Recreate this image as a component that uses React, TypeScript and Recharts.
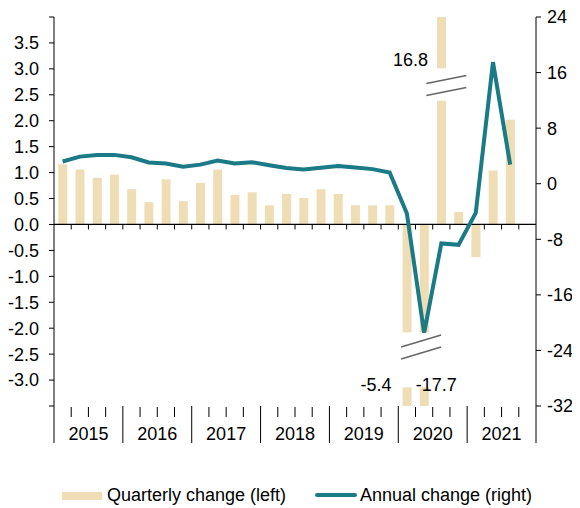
import React from "react"
import { Bar, ComposedChart, Line, ReferenceDot, ReferenceLine, XAxis, YAxis } from "recharts"

// quarters 2015Q1 .. 2021Q4 (last one is an empty slot)
const years = ["2015", "2016", "2017", "2018", "2019", "2020", "2021"]
const quarters = years.flatMap((y) => ["Q1", "Q2", "Q3", "Q4"].map((q) => `${y}${q}`))

// quarter on quarter change, % (left axis)
const quarterlyChange = [
  1.16, 1.06, 0.9, 0.96,
  0.68, 0.43, 0.87, 0.45,
  0.8, 1.06, 0.57, 0.62,
  0.37, 0.59, 0.51, 0.68,
  0.59, 0.37, 0.37, 0.37,
  -5.4, -17.7, 16.8, 0.24,
  -0.63, 1.04, 2.02,
]

// year on year change, % (right axis)
const annualChange = [
  3.2, 3.9, 4.15, 4.15,
  3.8, 3.05, 2.9, 2.45,
  2.75, 3.35, 2.9, 3.1,
  2.65, 2.25, 2.05, 2.3,
  2.55, 2.35, 2.1, 1.6,
  -4.3, -21.5, -8.6, -8.8,
  -4.2, 17.5, 2.75,
]

const leftTicks = [-3.5, -3, -2.5, -2, -1.5, -1, -0.5, 0, 0.5, 1, 1.5, 2, 2.5, 3, 3.5, 4]
const rightTicks = [-32, -24, -16, -8, 0, 8, 16, 24]

const LEFT_MIN = -3.5
const LEFT_MAX = 4

const BAR_COLOR = "#EFDDB5"
const LINE_COLOR = "#1A7A86"
const FONT = "'Liberation Sans', Arial, sans-serif"

const W = 572
const H = 435
const LEFT_W = 46
const RIGHT_W = 44
const AXIS_H = 37
const HALF_BAND = (W - LEFT_W - RIGHT_W) / quarters.length / 2

// where the cut bars are interrupted (left axis units)
const NEG_GAP = [-2.08, -3.14]
const POS_GAP = [2.39, 3.01]

// placement of the value labels of the cut bars, relative to the bar's left edge
const breakLabelStyle: Record<string, { dx: number; anchor: "start" | "end" }> = {
  "2020Q1": { dx: -11, anchor: "end" },
  "2020Q2": { dx: -4, anchor: "start" },
  "2020Q3": { dx: -9, anchor: "end" },
}

const data = quarters.map((q, i) => {
  const v = quarterlyChange[i]
  return {
    q,
    raw: v ?? null,
    bar: v == null ? null : Math.max(LEFT_MIN, Math.min(LEFT_MAX, v)),
    annual: annualChange[i] ?? null,
  }
})

const BarShape = (props: any) => {
  const { x, y, width, height, payload } = props
  const top = Math.min(y, y + height)
  const h = Math.abs(height)
  const { raw, bar, q } = payload
  if (raw == null) return null
  if (raw === bar) return <rect x={x} y={top} width={width} height={h} fill={BAR_COLOR} />

  const k = h / Math.abs(bar)
  const st = breakLabelStyle[q] ?? { dx: -8, anchor: "end" }
  if (raw < 0) {
    const zero = top
    const g1 = zero - NEG_GAP[0] * k
    const g2 = zero - NEG_GAP[1] * k
    return (
      <g>
        <rect x={x} y={zero} width={width} height={g1 - zero} fill={BAR_COLOR} />
        <rect x={x} y={g2} width={width} height={top + h - g2} fill={BAR_COLOR} />
        <text x={x + st.dx} y={g2 + 4} textAnchor={st.anchor} fontSize={18} fontFamily={FONT} fill="#000">
          {raw.toFixed(1)}
        </text>
      </g>
    )
  }
  const zero = top + h
  const g1 = zero - POS_GAP[0] * k
  const g2 = zero - POS_GAP[1] * k
  return (
    <g>
      <rect x={x} y={top} width={width} height={g2 - top} fill={BAR_COLOR} />
      <rect x={x} y={g1} width={width} height={zero - g1} fill={BAR_COLOR} />
      <text x={x + st.dx} y={zero - 3.06 * k} textAnchor={st.anchor} fontSize={18} fontFamily={FONT} fill="#000">
        {raw.toFixed(1)}
      </text>
    </g>
  )
}

// the "//" axis break symbol
const breakMark = (dx: number, slope: number) => (p: any) => {
  const cx = p.cx + dx
  const cy = p.cy
  const w = 20
  return (
    <g>
      <rect x={cx - w - 1} y={cy - 15} width={2 * w + 2} height={31} fill="#fff" />
      <line x1={cx - w} y1={cy - 1} x2={cx + w} y2={cy - 1 - 2 * w * slope} stroke="#666" strokeWidth={1.6} />
      <line x1={cx - w} y1={cy + 11} x2={cx + w} y2={cy + 11 - 2 * w * slope} stroke="#666" strokeWidth={1.6} />
    </g>
  )
}

const QuarterTick = (props: any) => {
  const { x, y, payload } = props
  const i = quarters.indexOf(payload.value)
  const right = x + HALF_BAND
  const qi = i % 4
  return (
    <g stroke="#000" strokeWidth={1}>
      {i === 0 && <line x1={x - HALF_BAND} x2={x - HALF_BAND} y1={y} y2={y + AXIS_H} />}
      {qi === 3 ? (
        <line x1={right} x2={right} y1={y} y2={y + AXIS_H} />
      ) : (
        <line x1={right} x2={right} y1={y + 1} y2={y + 11} />
      )}
      {qi === 1 && (
        <text x={right} y={y + 34} textAnchor="middle" stroke="none" fill="#000" fontSize={18} fontFamily={FONT}>
          {years[Math.floor(i / 4)]}
        </text>
      )}
    </g>
  )
}

const ZeroLine = (p: any) => {
  const { x1, y1, x2 } = p
  const step = (x2 - x1) / quarters.length
  return (
    <g>
      <line x1={x1} y1={y1} x2={x2} y2={y1} stroke="#000" strokeWidth={1.2} />
      {quarters.slice(1).map((q, i) => (
        <line key={q} x1={x1 + (i + 1) * step} x2={x1 + (i + 1) * step} y1={y1} y2={y1 + 5} stroke="#000" />
      ))}
    </g>
  )
}

const tickStyle = { fill: "#000", fontSize: 18, fontFamily: FONT }

export default function App() {
  return (
    <div style={{ position: "relative", width: W, height: 500, fontFamily: FONT }}>
      <ComposedChart width={W} height={H} data={data} margin={{ top: 9, right: 0, bottom: 0, left: 0 }} barCategoryGap="25%">
        <XAxis
          dataKey="q"
          height={AXIS_H}
          axisLine={false}
          tickLine={false}
          tickSize={0}
          tickMargin={0}
          interval={0}
          tick={(p: any) => <QuarterTick {...p} />}
        />
        <YAxis
          yAxisId="left"
          orientation="left"
          domain={[LEFT_MIN, LEFT_MAX]}
          ticks={leftTicks}
          interval={0}
          allowDataOverflow
          width={LEFT_W}
          tickSize={5}
          tickMargin={10}
          axisLine={{ stroke: "#000" }}
          tickLine={{ stroke: "#000" }}
          tick={tickStyle}
          tickFormatter={(v: number) => (v === LEFT_MIN || v === LEFT_MAX ? "" : v.toFixed(1))}
        />
        <YAxis
          yAxisId="right"
          orientation="right"
          domain={[-32, 24]}
          ticks={rightTicks}
          interval={0}
          allowDataOverflow
          width={RIGHT_W}
          tickSize={5}
          tickMargin={6}
          axisLine={{ stroke: "#000" }}
          tickLine={{ stroke: "#000" }}
          tick={tickStyle}
        />
        <Bar yAxisId="left" dataKey="bar" fill={BAR_COLOR} shape={BarShape} isAnimationActive={false} />
        <ReferenceLine yAxisId="left" y={0} shape={ZeroLine} />
        <Line
          yAxisId="right"
          dataKey="annual"
          type="linear"
          stroke={LINE_COLOR}
          strokeWidth={4}
          dot={false}
          activeDot={false}
          isAnimationActive={false}
        />
        <ReferenceDot yAxisId="left" x="2020Q3" y={2.7} r={0} shape={breakMark(5, 0.2)} />
        <ReferenceDot yAxisId="left" x="2020Q2" y={-2.38} r={0} shape={breakMark(-3, 0.3)} />
      </ComposedChart>
      <div style={{ position: "absolute", top: 476, left: 0, width: W, height: 22, fontSize: 18, color: "#000" }}>
        <span style={{ position: "absolute", left: 54, top: 8, width: 40, height: 8, background: BAR_COLOR }} />
        <span style={{ position: "absolute", left: 99, top: 0, lineHeight: "22px", whiteSpace: "nowrap" }}>
          Quarterly change (left)
        </span>
        <span style={{ position: "absolute", left: 307, top: 9, width: 42, height: 4, background: LINE_COLOR, borderRadius: 2 }} />
        <span style={{ position: "absolute", left: 352, top: 0, lineHeight: "22px", whiteSpace: "nowrap" }}>
          Annual change (right)
        </span>
      </div>
    </div>
  )
}
